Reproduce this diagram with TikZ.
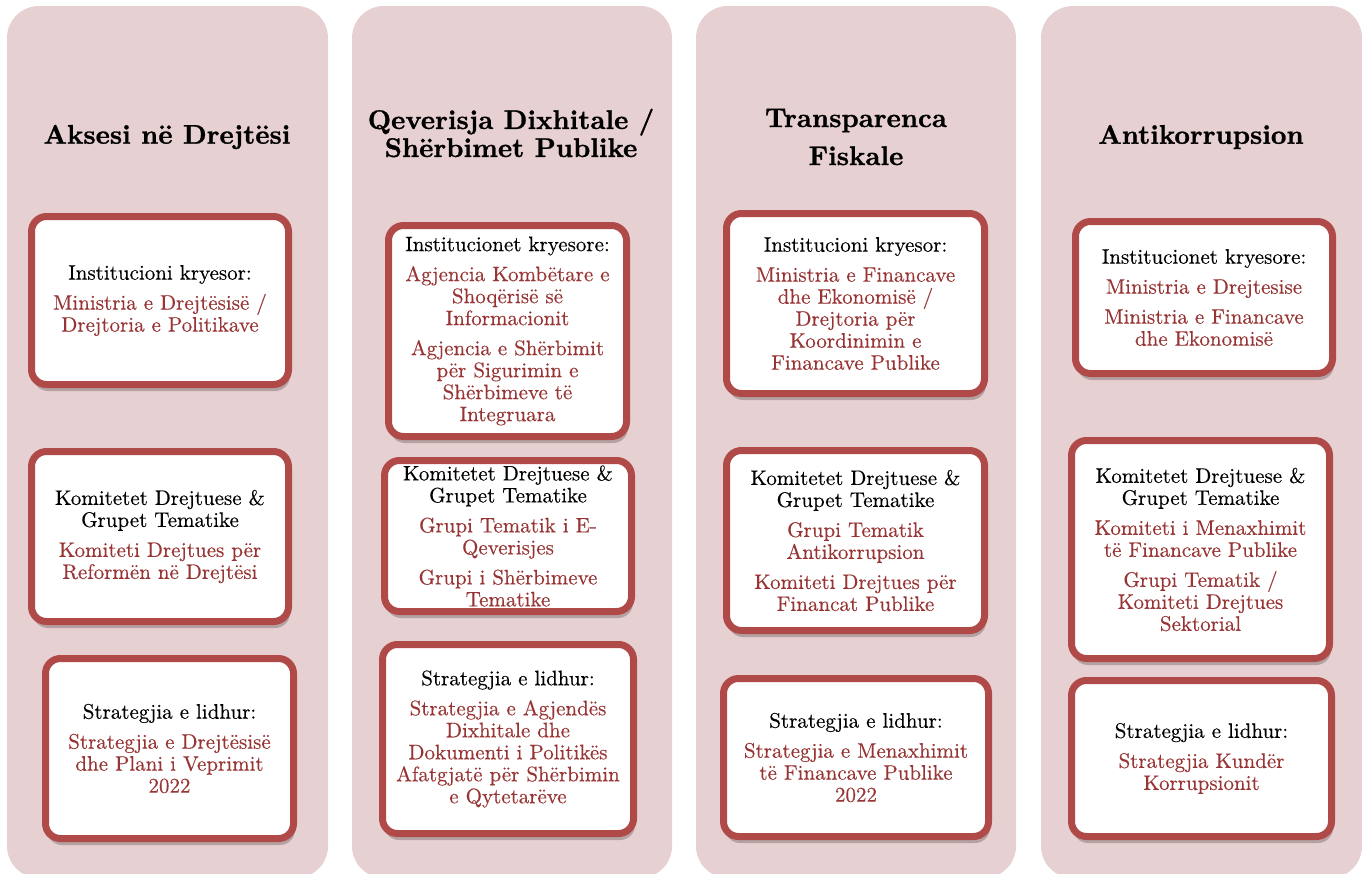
\documentclass[tikz,border=0pt]{standalone}
\usepackage{fontspec}
\usetikzlibrary{shadows}
\newfontfamily\bodyfont{lmroman10-regular.otf}[FakeBold=0.3]
\newfontfamily\titlefont{lmroman10-bold.otf}[FakeBold=1]
\definecolor{panelpink}{RGB}{231,208,209}
\definecolor{boxred}{RGB}{176,74,72}
\definecolor{txtred}{RGB}{152,52,52}
\tikzset{
  panel/.style={fill=panelpink, draw=none, rounded corners=32pt, inner sep=0pt},
  card/.style={fill=white, draw=boxred, line width=7pt, rounded corners=15pt, inner sep=0pt,
     drop shadow={shadow xshift=1.5pt, shadow yshift=-6.5pt, opacity=0.22, fill=black}},
  ttl/.style={align=center, font=\fontsize{27}{28}\titlefont, text=black},
  txt/.style={align=center, font=\fontsize{21}{22}\bodyfont, text=txtred, inner sep=0pt}
}
\newcommand{\hd}[1]{{\color{black}#1}}
\begin{document}
\begin{tikzpicture}[x=1pt,y=-1pt]
\useasboundingbox (0,0) rectangle (1362,873);
% panels
\node[panel, minimum width=321pt, minimum height=872pt] (p1) at (167.5,442) {};
\node[panel, minimum width=320pt, minimum height=872pt] (p2) at (512,442) {};
\node[panel, minimum width=320pt, minimum height=872pt] (p3) at (856,442) {};
\node[panel, minimum width=321pt, minimum height=872pt] (p4) at (1201.5,442) {};
% titles
\node[ttl] (t1) at (167,137) {Aksesi në Drejtësi};
\node[ttl] (t2) at (511,133) {Qeverisja Dixhitale /\\Shërbimet Publike};
\node[ttl] (t3) at (856,137) {Transparenca\\[10pt]Fiskale};
\node[ttl] (t4) at (1201,137) {Antikorrupsion};
% cards column 1
\node[card, minimum width=257pt, minimum height=168pt] (c11) at (160,300.5) {};
\node[card, minimum width=257pt, minimum height=170pt] (c12) at (160,536.5) {};
\node[card, minimum width=248pt, minimum height=180pt] (c13) at (169.5,748.5) {};
% column 2
\node[card, minimum width=238pt, minimum height=211pt] (c21) at (507.5,331) {};
\node[card, minimum width=247pt, minimum height=151pt] (c22) at (508,536) {};
\node[card, minimum width=251pt, minimum height=189pt] (c23) at (508,739) {};
% column 3
\node[card, minimum width=258pt, minimum height=180pt] (c31) at (855.5,303.5) {};
\node[card, minimum width=258pt, minimum height=180pt] (c32) at (855.5,540.5) {};
\node[card, minimum width=265pt, minimum height=158pt] (c33) at (856,757.5) {};
% column 4
\node[card, minimum width=257pt, minimum height=152pt] (c41) at (1204,297.5) {};
\node[card, minimum width=258pt, minimum height=218pt] (c42) at (1200.5,549.5) {};
\node[card, minimum width=260pt, minimum height=156pt] (c43) at (1201.5,758.5) {};
% texts
\node[txt] (x11) at (c11.center) {\hd{Institucioni kryesor:}\\[8pt]Ministria e Drejtësisë /\\Drejtoria e Politikave};
\node[txt] (x12) at (c12.center) {\hd{Komitetet Drejtuese \&}\\\hd{Grupet Tematike}\\[8pt]Komiteti Drejtues për\\Reformën në Drejtësi};
\node[txt] (x13) at (c13.center) {\hd{Strategjia e lidhur:}\\[8pt]Strategjia e Drejtësisë\\dhe Plani i Veprimit\\2022};
\node[txt] (x21) at (c21.center) {\hd{Institucionet kryesore:}\\[8pt]Agjencia Kombëtare e\\Shoqërisë së\\Informacionit\\[8pt]Agjencia e Shërbimit\\për Sigurimin e\\Shërbimeve të\\Integruara};
\node[txt] (x22) at (c22.center) {\hd{Komitetet Drejtuese \&}\\\hd{Grupet Tematike}\\[8pt]Grupi Tematik i E-\\Qeverisjes\\[8pt]Grupi i Shërbimeve\\Tematike};
\node[txt] (x23) at (c23.center) {\hd{Strategjia e lidhur:}\\[8pt]Strategjia e Agjendës\\Dixhitale dhe\\Dokumenti i Politikës\\Afatgjatë për Shërbimin\\e Qytetarëve};
\node[txt] (x31) at (c31.center) {\hd{Institucioni kryesor:}\\[8pt]Ministria e Financave\\dhe Ekonomisë /\\Drejtoria për\\Koordinimin e\\Financave Publike};
\node[txt] (x32) at (c32.center) {\hd{Komitetet Drejtuese \&}\\\hd{Grupet Tematike}\\[8pt]Grupi Tematik\\Antikorrupsion\\[8pt]Komiteti Drejtues për\\Financat Publike};
\node[txt] (x33) at (c33.center) {\hd{Strategjia e lidhur:}\\[8pt]Strategjia e Menaxhimit\\të Financave Publike\\2022};
\node[txt] (x41) at (c41.center) {\hd{Institucionet kryesore:}\\[8pt]Ministria e Drejtesise\\[8pt]Ministria e Financave\\dhe Ekonomisë};
\node[txt] (x42) at (c42.center) {\hd{Komitetet Drejtuese \&}\\\hd{Grupet Tematike}\\[8pt]Komiteti i Menaxhimit\\të Financave Publike\\[8pt]Grupi Tematik /\\Komiteti Drejtues\\Sektorial};
\node[txt] (x43) at (c43.center) {\hd{Strategjia e lidhur:}\\[8pt]Strategjia Kundër\\Korrupsionit};
\end{tikzpicture}
\end{document}
